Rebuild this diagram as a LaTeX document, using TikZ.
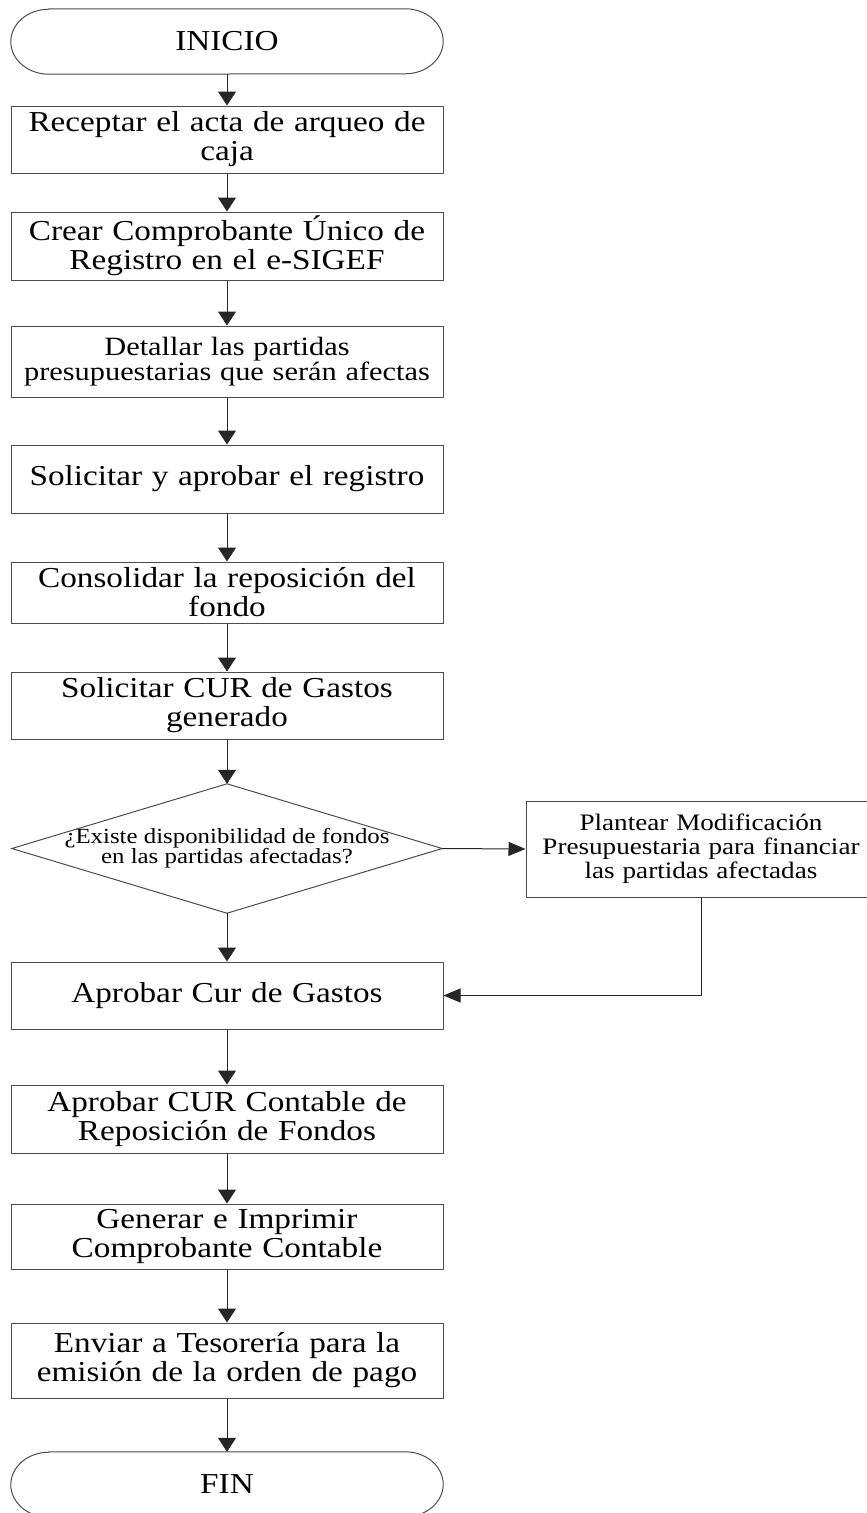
\documentclass[tikz,border=0pt]{standalone}
\usepackage{fontspec}
\setmainfont{Liberation Serif}[FakeStretch=1.15]
\usetikzlibrary{arrows.meta}

\newcommand\txtmain{\fontsize{28.9}{29}\selectfont}
\newcommand\txtsmall{\fontsize{26.4}{25}\selectfont}
\newcommand\txtside{\fontsize{23.6}{24}\selectfont}
\newcommand\txtcond{\fontsize{21.6}{20}\selectfont}

\begin{document}
\begin{tikzpicture}[x=1pt, y=-1pt,
  box/.style={draw=black!70, line width=1pt, rectangle, inner sep=0pt,
    minimum width=432pt, align=center, text width=428pt, font=\txtmain},
  term/.style={draw=none, rectangle, inner sep=0pt,
    minimum width=432pt, minimum height=65pt, font=\txtmain},
  outline/.style={draw=black!70, line width=1pt},
  link/.style={draw=black!85, line width=1pt},
  down/.style={link, -{Triangle[length=14pt, width=18pt]}},
  side/.style={link, -{Triangle[length=17pt, width=14pt]}}
]
\useasboundingbox (0,0) rectangle (867,1513);

% terminals
\node[term] (ini) at (227,41.5) {INICIO};
\draw[outline] ([xshift=38pt]ini.north west) -- ([xshift=-38pt]ini.north east)
  arc[start angle=90, end angle=-90, x radius=38pt, y radius=32.5pt]
  -- ([xshift=38pt]ini.south west)
  arc[start angle=270, end angle=90, x radius=38pt, y radius=32.5pt] -- cycle;

% process steps
\node[box, minimum height=67pt] (b1) at (227,139.5) {Receptar el acta de arqueo de\\caja};
\node[box, minimum height=68pt] (b2) at (227,246) {Crear Comprobante Único de\\Registro en el e-SIGEF};
\node[box, minimum height=71pt, font=\txtsmall] (b3) at (227,361.5) {Detallar las partidas\\presupuestarias que serán afectas};
\node[box, minimum height=68pt] (b4) at (227,479) {Solicitar y aprobar el registro};
\node[box, minimum height=61pt] (b5) at (227,592.5) {Consolidar la reposición del\\fondo};
\node[box, minimum height=67pt] (b6) at (227,705.5) {Solicitar CUR de Gastos\\generado};

% decision
\node[rectangle, inner sep=0pt, minimum width=430pt, minimum height=129pt,
  align=center, font=\txtcond] (dec) at (227,848.5)
  {¿Existe disponibilidad de fondos\\en las partidas afectadas?};
\draw[outline] (dec.north) -- (dec.east) -- (dec.south) -- (dec.west) -- cycle;

% budget modification branch
\node[box, minimum width=350pt, text width=345pt, minimum height=96pt, font=\txtside]
  (mod) at (701,849) {Plantear Modificación\\Presupuestaria para financiar\\las partidas afectadas};

\node[box, minimum height=67pt] (b7) at (227,995.5) {Aprobar Cur de Gastos};
\node[box, minimum height=68pt] (b8) at (227,1119) {Aprobar CUR Contable de\\Reposición de Fondos};
\node[box, minimum height=65pt] (b9) at (227,1236.5) {Generar e Imprimir\\Comprobante Contable};
\node[box, minimum height=75pt] (b10) at (227,1360.5) {Enviar a Tesorería para la\\emisión de la orden de pago};

\node[term] (fin) at (227,1484.5) {FIN};
\draw[outline] ([xshift=38pt]fin.north west) -- ([xshift=-38pt]fin.north east)
  arc[start angle=90, end angle=-90, x radius=38pt, y radius=32.5pt]
  -- ([xshift=38pt]fin.south west)
  arc[start angle=270, end angle=90, x radius=38pt, y radius=32.5pt] -- cycle;

% connectors
\draw[down] (ini.south) -- (b1.north);
\draw[down] (b1.south) -- (b2.north);
\draw[down] (b2.south) -- (b3.north);
\draw[down] (b3.south) -- (b4.north);
\draw[down] (b4.south) -- (b5.north);
\draw[down] (b5.south) -- (b6.north);
\draw[down] (b6.south) -- (dec.north);
\draw[side] (dec.east) -- (mod.west);
\draw[down] (dec.south) -- (b7.north);
\draw[side] (mod.south) |- (b7.east);
\draw[down] (b7.south) -- (b8.north);
\draw[down] (b8.south) -- (b9.north);
\draw[down] (b9.south) -- (b10.north);
\draw[down] (b10.south) -- (fin.north);
\end{tikzpicture}
\end{document}
